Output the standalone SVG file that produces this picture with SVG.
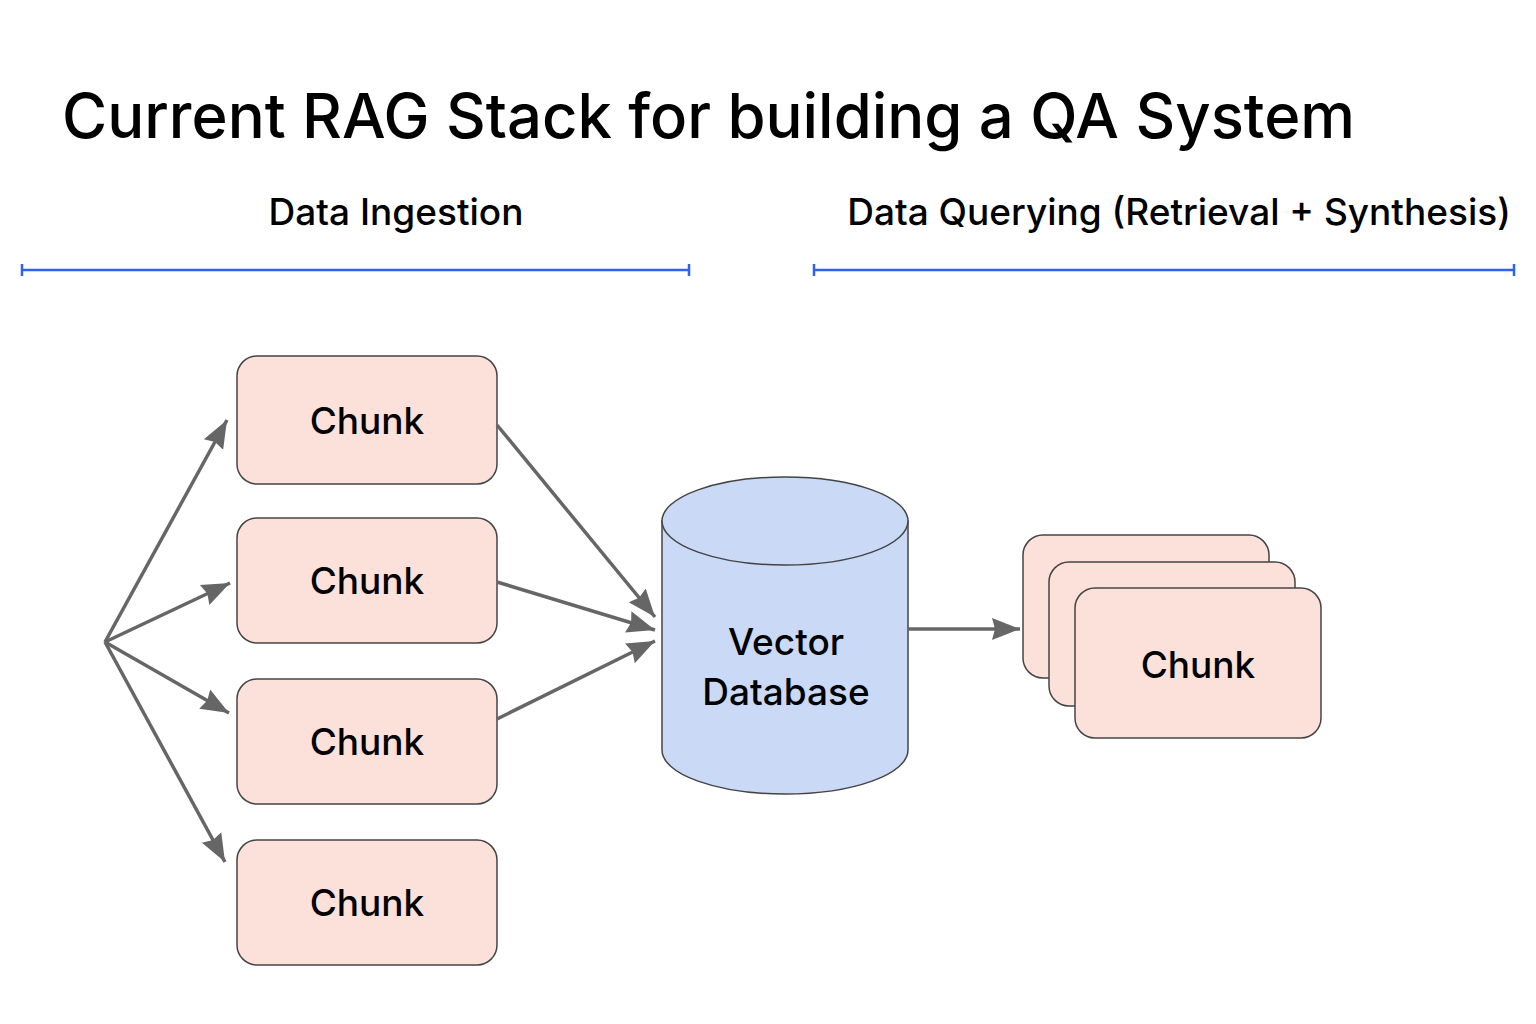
<svg xmlns="http://www.w3.org/2000/svg" width="1536" height="1024" viewBox="0 0 1536 1024">
<style>
.t{font-family:Inter,"Noto Sans","Liberation Sans",sans-serif;fill:#000;font-weight:500}
.chunk{fill:#fce0da;stroke:#444;stroke-width:1.5}
.lbl{font-family:Inter,"Noto Sans","Liberation Sans",sans-serif;font-size:37px;font-weight:500;text-anchor:middle;fill:#000}
.conn{stroke:#666;stroke-width:3.5;fill:none;marker-end:url(#ah)}
.rule{stroke:#2f62f0;stroke-width:2.5;fill:none}
</style>
<defs>
<marker id="ah" markerUnits="userSpaceOnUse" markerWidth="30" markerHeight="26" refX="28" refY="13" orient="auto">
<path d="M0,2 L28,13 L0,24 L3,13 Z" fill="#666"/>
</marker>
</defs>
<rect width="1536" height="1024" fill="#fff"/>
<text class="t" x="62" y="138" font-size="61.6">Current RAG Stack for building a QA System</text>
<text class="t" x="396" y="225" font-size="37" text-anchor="middle">Data Ingestion</text>
<text class="t" x="1179" y="225" font-size="37" text-anchor="middle">Data Querying (Retrieval + Synthesis)</text>
<g id="rules">
<path class="rule" d="M22,270 H689 M22,264 V276 M689,264 V276"/>
<path class="rule" d="M814,270 H1514 M814,264 V276 M1514,264 V276"/>
</g>
<g id="chunk1"><rect class="chunk" x="237" y="356" width="260" height="128" rx="20"/><text class="lbl" x="367" y="434">Chunk</text></g>
<g id="chunk2"><rect class="chunk" x="237" y="518" width="260" height="125" rx="20"/><text class="lbl" x="367" y="594">Chunk</text></g>
<g id="chunk3"><rect class="chunk" x="237" y="679" width="260" height="125" rx="20"/><text class="lbl" x="367" y="755">Chunk</text></g>
<g id="chunk4"><rect class="chunk" x="237" y="840" width="260" height="125" rx="20"/><text class="lbl" x="367" y="916">Chunk</text></g>
<g id="vectordb">
<path d="M662,521 V750 A123,44 0 0 0 908,750 V521 Z" fill="#c9d9f6" stroke="#444" stroke-width="1.5"/>
<ellipse cx="785" cy="521" rx="123" ry="44" fill="#c9d9f6" stroke="#444" stroke-width="1.5"/>
<text class="lbl" x="786" y="655">Vector</text>
<text class="lbl" x="786" y="705">Database</text>
</g>
<g id="results">
<rect class="chunk" x="1023" y="535" width="246" height="143" rx="20"/>
<rect class="chunk" x="1049" y="562" width="246" height="144" rx="20"/>
<rect class="chunk" x="1075" y="588" width="246" height="150" rx="20"/>
<text class="lbl" x="1198" y="678">Chunk</text>
</g>
<g id="connectors">
<path class="conn" d="M105,642 L227,420"/>
<path class="conn" d="M105,642 L230,583"/>
<path class="conn" d="M105,642 L229,713"/>
<path class="conn" d="M105,642 L225,862"/>
<path class="conn" d="M497,425 L655,617"/>
<path class="conn" d="M497,582 L655,630"/>
<path class="conn" d="M497,719 L655,641"/>
<path class="conn" d="M908,629 L1020,629"/>
</g>
</svg>
